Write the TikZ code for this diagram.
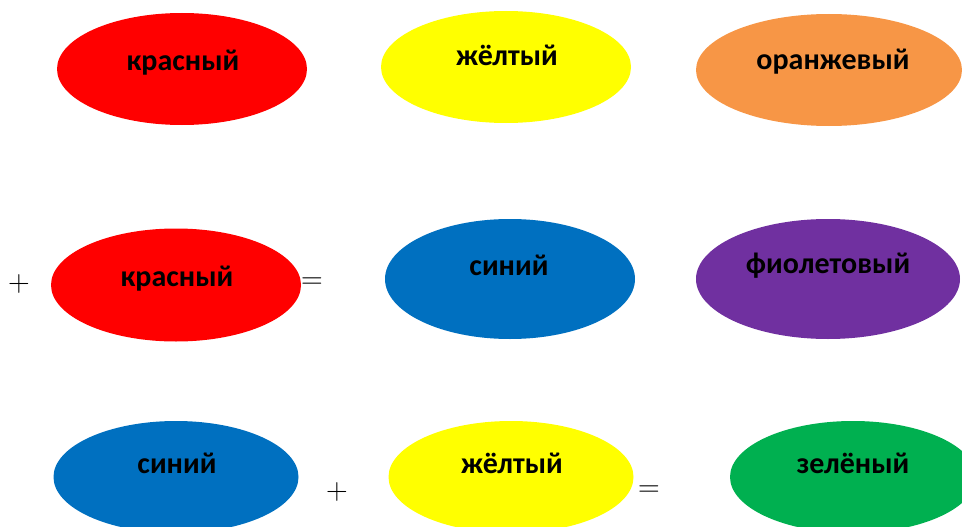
\documentclass[tikz,border=0pt]{standalone}
\usepackage{fontspec}
\setmainfont{Carlito}
\usetikzlibrary{shapes.geometric}
\definecolor{cred}{HTML}{FF0000}
\definecolor{cyellow}{HTML}{FFFF00}
\definecolor{corange}{HTML}{F79646}
\definecolor{cblue}{HTML}{0070C0}
\definecolor{cpurple}{HTML}{7030A0}
\definecolor{cgreen}{HTML}{00B050}
\begin{document}
\begin{tikzpicture}[x=1pt,y=-1pt,
	blob/.style={ellipse,inner sep=0pt,minimum width=250pt,minimum height=112pt,fill=#1},
	word/.style={anchor=base,inner sep=0pt,font=\fontsize{30}{32}\selectfont\bfseries},
	sign/.style={inner sep=0pt,scale=1.45,transform shape,font=\fontsize{20}{22}\selectfont}]
	\useasboundingbox (0,0) rectangle (962,527);
	%row 1
		\node[blob=cred] (red1) at (182,69) {};
		\node[blob=cyellow] (yellow1) at (506,67) {};
		\node[blob=corange,minimum width=266pt] (orange) at (829,70) {};
		\node[word] (tred1) at (183,71) {красный};
		\node[word] (tyellow1) at (507,66) {жёлтый};
		\node[word] (torange) at (833,70) {оранжевый};
	%row 2
		\node[sign] (plus1) at (19,284) {$+$};
		\node[blob=cred,minimum height=113pt] (red2) at (176,285) {};
		\node[sign] (eq1) at (312,283) {$=$};
		\node[blob=cblue,minimum height=120pt] (blue1) at (510,279) {};
		\node[blob=cpurple,minimum width=264pt,minimum height=120pt] (purple) at (828,279) {};
		\node[word] (tred2) at (177,286) {красный};
		\node[word] (tblue1) at (509,275) {синий};
		\node[word] (tpurple) at (828,273) {фиолетовый};
	%row 3
		\node[blob=cblue,minimum width=245pt] (blue2) at (176,477) {};
		\node[sign] (plus2) at (337,492) {$+$};
		\node[blob=cyellow,minimum width=245pt] (yellow2) at (511,477) {};
		\node[sign] (eq2) at (649,491) {$=$};
		\node[blob=cgreen,minimum width=246pt] (green) at (853,477) {};
		\node[word] (tblue2) at (177,473) {синий};
		\node[word] (tyellow2) at (512,473) {жёлтый};
		\node[word] (tgreen) at (853,473) {зелёный};
\end{tikzpicture}
\end{document}
